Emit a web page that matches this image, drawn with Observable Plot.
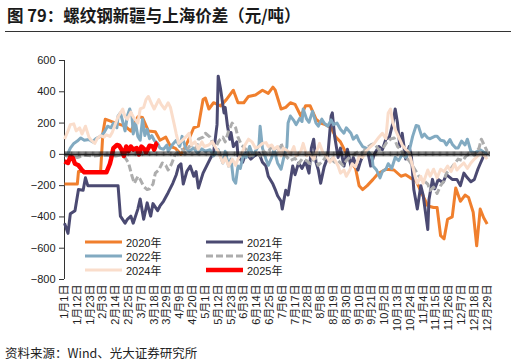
<!DOCTYPE html>
<html><head><meta charset="utf-8">
<script src="https://cdn.jsdelivr.net/npm/d3@7"></script>
<script src="https://cdn.jsdelivr.net/npm/@observablehq/plot@0.6"></script>
<style>
body{margin:0;background:#fff;width:516px;height:363px;position:relative;overflow:hidden;font-family:"Liberation Sans","Noto Sans CJK SC",sans-serif;color:#222;}
#title{position:absolute;left:7px;top:3px;font-size:16.5px;font-weight:bold;color:#1a1a1a;font-family:"Noto Sans CJK SC",sans-serif;white-space:nowrap;}
#rule{position:absolute;left:5px;top:31px;width:506px;height:0;border-top:1.5px solid #333;}
#chart{position:absolute;left:0;top:40px;}
#legend{position:absolute;left:85px;top:235px;display:grid;grid-template-columns:121px 121px;grid-auto-rows:14px;font-size:11px;}
#legend .item{display:flex;align-items:center;white-space:nowrap;}
#legend svg{margin-right:4px;}
#caption{position:absolute;left:5px;top:343px;font-size:12.5px;font-family:"Noto Sans CJK SC",sans-serif;color:#222;white-space:nowrap;}
</style></head>
<body>
<div id="title">图 79：螺纹钢新疆与上海价差（元/吨）</div>
<div id="rule"></div>
<div id="chart"></div>
<div id="legend"></div>
<div id="caption">资料来源：Wind、光大证券研究所</div>
<script>
// x = day of year index (leap-year calendar, 0 = 1月1日)
const tickDays = [0,11,22,33,44,55,66,77,88,99,110,121,132,143,154,165,176,187,198,209,220,231,242,253,264,275,286,297,308,319,330,341,352,363];
const tickLabels = ["1月1日","1月12日","1月23日","2月3日","2月14日","2月25日","3月7日","3月18日","3月29日","4月9日","4月20日","5月1日","5月12日","5月23日","6月3日","6月14日","6月25日","7月6日","7月17日","7月28日","8月8日","8月19日","8月30日","9月10日","9月21日","10月2日","10月13日","10月24日","11月4日","11月15日","11月26日","12月7日","12月18日","12月29日"];
const yTicks = [-800,-600,-400,-200,0,200,400,600];

const y2020 = [[0,-190],[11,-190],[12,-110],[31,-110],[33,140],[35,225],[44,200],[52,180],[57,148],[63,240],[67,235],[72,150],[78,145],[82,90],[87,110],[91,50],[95,40],[100,0],[102,20],[107,100],[111,170],[115,180],[119,350],[121,360],[124,290],[128,330],[134,310],[139,350],[145,410],[149,330],[154,330],[158,370],[164,380],[170,410],[175,390],[179,430],[181,410],[186,290],[190,300],[194,330],[198,320],[203,245],[207,310],[211,310],[216,225],[220,200],[224,190],[229,170],[233,110],[237,80],[241,20],[246,-50],[250,-90],[253,-200],[256,-225],[260,-200],[265,-160],[269,-125],[276,-95],[283,-100],[289,-140],[293,-130],[297,-150],[302,-170],[306,-235],[312,-330],[317,-340],[320,-340],[323,-520],[326,-540],[329,-415],[333,-400],[336,-215],[340,-300],[344,-260],[347,-275],[351,-370],[354,-585],[357,-350],[360,-405],[363,-445]];

const y2021 = [[0,-440],[3,-505],[5,-380],[9,-360],[12,-225],[16,-230],[18,-150],[20,-200],[46,-200],[48,-395],[52,-440],[54,-415],[57,-395],[59,-440],[63,-350],[65,-285],[68,-415],[71,-310],[74,-395],[76,-315],[80,-360],[82,-330],[85,-300],[89,-245],[93,-185],[96,-130],[98,-75],[100,-60],[102,-190],[105,-110],[108,-75],[111,-140],[113,-110],[115,-215],[119,-120],[122,-75],[125,-30],[128,8],[131,190],[132,500],[134,420],[137,265],[138,300],[140,180],[142,97],[143,140],[145,50],[148,80],[149,-10],[153,-50],[156,10],[160,-30],[163,-10],[167,8],[170,-50],[173,-75],[175,-140],[179,-190],[181,-225],[183,-265],[186,-300],[187,-350],[190,-230],[192,-260],[196,-75],[198,-130],[201,-55],[204,-90],[207,-45],[210,-120],[212,40],[214,97],[216,-50],[218,-100],[220,-185],[223,-80],[226,-20],[229,245],[230,265],[232,115],[235,-20],[237,40],[240,-75],[243,33],[246,-75],[248,-20],[252,-100],[254,-50],[257,10],[260,33],[263,-75],[266,0],[270,50],[273,30],[276,97],[279,110],[282,200],[284,290],[286,200],[288,50],[290,135],[293,-30],[296,50],[298,-20],[300,-225],[303,-350],[306,-200],[308,-260],[312,-480],[313,-290],[316,-160],[318,-220],[321,-160],[325,-180],[328,-130],[333,-160],[337,-160],[340,-200],[343,-120],[346,-150],[349,-175],[352,-160],[355,-95],[357,-60],[360,-10],[363,8]];

const y2022 = [[0,0],[2,-10],[5,40],[8,70],[11,85],[14,105],[17,90],[21,95],[24,80],[27,100],[31,115],[34,140],[37,180],[40,170],[42,200],[45,170],[46,245],[48,265],[50,210],[52,150],[54,245],[56,290],[58,240],[59,130],[61,200],[63,115],[65,90],[67,225],[69,120],[71,160],[73,100],[75,120],[77,90],[80,70],[82,40],[85,33],[88,60],[89,20],[93,65],[96,90],[99,50],[101,115],[104,40],[107,20],[111,40],[114,10],[118,35],[121,20],[125,30],[128,-10],[132,30],[136,-55],[138,20],[141,-75],[143,-30],[145,-160],[147,-185],[149,-75],[151,-90],[154,10],[156,-20],[159,50],[162,-10],[164,20],[167,60],[168,180],[170,40],[173,-30],[175,-70],[178,-20],[180,30],[183,-55],[186,-95],[188,-30],[191,50],[192,200],[194,245],[197,215],[199,190],[202,230],[204,210],[205,290],[208,225],[210,205],[213,275],[216,200],[218,180],[221,225],[223,200],[226,180],[229,220],[231,190],[234,200],[237,160],[240,135],[242,170],[246,135],[248,97],[251,120],[253,85],[256,50],[259,40],[261,15],[264,-10],[265,-75],[268,-100],[271,-150],[273,-110],[276,-95],[278,-60],[281,-90],[284,-20],[287,-40],[290,0],[293,-20],[296,20],[299,115],[302,185],[304,180],[307,110],[309,130],[312,105],[314,100],[318,115],[320,115],[323,90],[326,85],[328,60],[331,95],[333,65],[336,40],[338,40],[341,85],[344,60],[346,97],[349,20],[352,10],[355,20],[357,30],[361,10],[363,8]];

const y2023 = [[0,-5],[5,-10],[11,-20],[18,-5],[25,-10],[31,-5],[37,-5],[44,-10],[48,-5],[52,-20],[55,-55],[58,-140],[60,-185],[63,-140],[65,-160],[68,-205],[71,-225],[73,-220],[76,-190],[78,-120],[81,-100],[84,-55],[87,-70],[89,-100],[92,-60],[95,0],[98,20],[101,33],[104,10],[107,50],[110,60],[113,40],[115,97],[119,110],[121,135],[125,110],[128,60],[130,50],[133,90],[136,110],[138,80],[141,150],[144,200],[147,170],[149,110],[152,60],[156,30],[159,-10],[162,-5],[165,10],[168,-10],[171,20],[174,0],[177,40],[180,50],[184,30],[186,70],[190,-10],[194,-40],[198,-25],[201,-60],[204,-30],[208,-40],[211,-60],[215,-20],[218,-70],[222,-40],[225,-10],[229,-30],[232,-50],[235,-40],[239,-70],[242,-40],[246,-10],[249,0],[253,20],[256,10],[259,40],[263,60],[266,70],[270,30],[273,33],[277,80],[280,97],[283,105],[286,50],[289,30],[292,-10],[296,-40],[299,-75],[302,-110],[306,-160],[309,-170],[312,-190],[314,-230],[317,-210],[320,-250],[323,-200],[326,-170],[328,-120],[332,-90],[335,-60],[338,-30],[342,-40],[345,-10],[349,10],[352,-5],[356,40],[358,97],[361,50],[363,20]];

const y2024 = [[0,97],[3,150],[5,190],[8,195],[10,150],[13,170],[15,130],[18,180],[21,110],[23,90],[26,70],[28,100],[31,120],[34,110],[36,125],[39,115],[41,140],[44,200],[46,240],[50,290],[52,240],[54,225],[57,270],[59,240],[63,200],[65,290],[68,300],[70,350],[72,370],[75,320],[77,290],[81,350],[83,320],[86,290],[89,330],[91,300],[94,200],[96,130],[98,70],[101,90],[104,110],[107,135],[109,60],[112,80],[115,33],[118,80],[120,50],[124,60],[127,80],[130,40],[132,20],[136,-55],[138,-20],[141,-75],[144,-30],[147,-70],[149,-30],[153,20],[155,60],[158,97],[161,80],[164,40],[167,50],[170,70],[173,75],[175,50],[178,60],[180,33],[183,50],[186,-10],[188,40],[192,20],[194,0],[197,50],[199,-10],[203,20],[205,70],[208,-10],[210,10],[214,-30],[216,10],[219,70],[222,10],[225,-10],[228,-50],[231,-20],[235,-75],[237,-120],[240,-100],[242,-140],[245,-100],[247,-60],[250,-80],[253,-10],[256,-20],[259,20],[263,50],[266,70],[270,110],[273,135],[276,100],[278,265],[280,290],[282,200],[284,160],[287,110],[290,60],[293,33],[296,10],[299,-75],[301,-140],[303,-185],[306,-140],[308,-185],[312,-100],[314,-140],[317,-95],[320,-150],[323,-95],[326,-110],[329,-75],[332,-110],[335,-60],[337,-100],[340,-75],[343,-55],[346,-90],[349,-55],[352,-30],[355,-10],[357,10],[361,-10],[363,-30]];

const y2025 = [[0,-45],[3,-55],[5,-15],[7,-20],[9,-60],[12,-70],[15,-100],[17,-115],[36,-115],[39,-60],[40,-30],[42,40],[45,60],[47,55],[49,30],[51,-10],[53,50],[55,20],[57,50],[59,30],[62,40],[64,0],[66,50],[69,30],[70,10],[73,55],[76,50],[77,30],[79,70],[80,75]];

const series = [
  {name:"2020年", data:y2020, color:"#F07F2D", width:3, dash:null},
  {name:"2021年", data:y2021, color:"#4B4A72", width:3, dash:null},
  {name:"2022年", data:y2022, color:"#82AAC1", width:3, dash:null},
  {name:"2023年", data:y2023, color:"#ADADAD", width:3, dash:"7,3"},
  {name:"2024年", data:y2024, color:"#FADDCB", width:3, dash:null},
  {name:"2025年", data:y2025, color:"#FF0000", width:4.5, dash:null}
];

const labelOf = new Map(tickDays.map((d,i)=>[d,tickLabels[i]]));
const allDays = d3.range(0, 366);

const lineMarks = series.map(s => Plot.line(s.data, {
  x: d => d[0], y: d => d[1], stroke: s.color, strokeWidth: s.width,
  strokeDasharray: s.dash || undefined, strokeLinejoin: "round", strokeLinecap: "butt"
}));

const chart = Plot.plot({
  width: 516, height: 300,
  marginLeft: 64, marginRight: 27, marginTop: 20, marginBottom: 61,
  style: {fontFamily: '"Liberation Sans","Noto Sans CJK SC",sans-serif', fontSize: "11px", color: "#222", background: "transparent"},
  x: {domain: [0, 365]},
  y: {domain: [-800, 600]},
  marks: [
    Plot.axisY({ticks: yTicks, tickSize: 5, tickPadding: 4, label: null, fontSize: 11, stroke: "#333"}),
    Plot.axisX({ticks: tickDays, tickFormat: d => labelOf.get(d), tickRotate: -90, tickSize: 0, tickPadding: 5, textAnchor: "end", label: null, fontSize: 11}),
    Plot.ruleX([0], {stroke: "#333", strokeWidth: 1}),
    ...lineMarks,
    Plot.ruleY([0], {stroke: "#111", strokeWidth: 1}),
    Plot.ruleX(allDays, {x: d => d, y1: 0, y2: 0, insetTop: -2.5, insetBottom: -2.5, stroke: "#111", strokeWidth: 0.7})
  ]
});
document.getElementById("chart").appendChild(chart);

const legend = document.getElementById("legend");
series.forEach(s => {
  const item = document.createElement("div");
  item.className = "item";
  item.innerHTML = `<svg width="37" height="8"><line x1="0" x2="37" y1="4" y2="4" stroke="${s.color}" stroke-width="${s.width}" ${s.dash ? `stroke-dasharray="${s.dash}"` : ""}/></svg><span>${s.name}</span>`;
  legend.appendChild(item);
});
</script>
</body></html>
